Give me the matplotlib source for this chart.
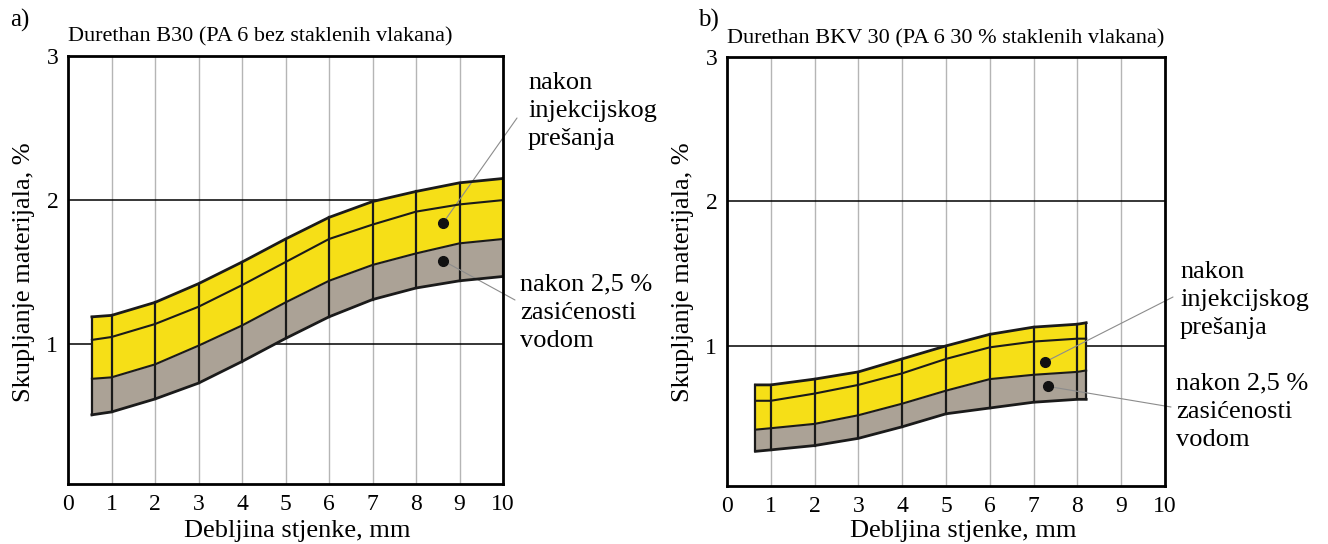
import numpy as np
import matplotlib
matplotlib.use("Agg")
import matplotlib.pyplot as plt

plt.rcParams['font.family'] = ['Liberation Serif', 'DejaVu Serif']

# debljina stjenke, mm
x_a = [0.55, 1, 2, 3, 4, 5, 6, 7, 8, 9, 10]
top_a = [1.19, 1.20, 1.29, 1.42, 1.57, 1.73, 1.88, 1.99, 2.06, 2.12, 2.15]
mid_a = [1.03, 1.05, 1.14, 1.26, 1.41, 1.57, 1.73, 1.83, 1.92, 1.97, 2.00]
bnd_a = [0.76, 0.77, 0.86, 0.99, 1.13, 1.29, 1.44, 1.55, 1.63, 1.70, 1.73]
bot_a = [0.51, 0.53, 0.62, 0.73, 0.88, 1.04, 1.19, 1.31, 1.39, 1.44, 1.47]

x_b = [0.65, 1, 2, 3, 4, 5, 6, 7, 8, 8.2]
top_b = [0.73, 0.73, 0.77, 0.82, 0.91, 1.00, 1.08, 1.13, 1.15, 1.16]
mid_b = [0.62, 0.62, 0.67, 0.73, 0.81, 0.91, 0.99, 1.03, 1.05, 1.05]
bnd_b = [0.42, 0.43, 0.46, 0.52, 0.60, 0.69, 0.77, 0.80, 0.82, 0.83]
bot_b = [0.27, 0.28, 0.31, 0.36, 0.44, 0.53, 0.57, 0.61, 0.63, 0.63]

# tocke oznaka
dots_a = [(8.62, 1.84), (8.62, 1.58)]
dots_b = [(7.27, 0.89), (7.32, 0.72)]

naslov_a = "Durethan B30 (PA 6 bez staklenih vlakana)"
naslov_b = "Durethan BKV 30 (PA 6 30 % staklenih vlakana)"
txt_1 = "nakon\ninjekcijskog\nprešanja"
txt_2 = "nakon 2,5 %\nzasićenosti\nvodom"

YELLOW = "#F6DF17"
GRAY = "#ABA296"
W, H = 1328, 544

fig = plt.figure(figsize=(W / 100, H / 100), dpi=100)


def box(l, r, t, b):
    return [l / W, 1 - b / H, (r - l) / W, (b - t) / H]


def panel(ax, x, top, mid, bnd, bot, dots, fs):
    x = np.array(x)
    ax.set_xlim(0, 10)
    ax.set_ylim(0.03, 3)
    for xi in range(1, 10):
        ax.axvline(xi, color="#b5b5b5", lw=1.0, zorder=1)
    ax.axhline(1, color="black", lw=1.1, zorder=1)
    ax.axhline(2, color="black", lw=1.1, zorder=1)
    ax.fill_between(x, bnd, top, color=YELLOW, lw=0, zorder=2)
    ax.fill_between(x, bot, bnd, color=GRAY, lw=0, zorder=2)
    # tamne okomite linije unutar pojasa
    for i, xi in enumerate(x):
        ax.plot([xi, xi], [bot[i], top[i]], color="#1a1a1a", lw=1.6, zorder=3)
    ax.plot(x, top, color="#1a1a1a", lw=2.0, zorder=4)
    ax.plot(x, mid, color="#1a1a1a", lw=1.5, zorder=4)
    ax.plot(x, bnd, color="#1a1a1a", lw=1.5, zorder=4)
    ax.plot(x, bot, color="#1a1a1a", lw=2.0, zorder=4)
    for d in dots:
        ax.plot(*d, 'o', color="#111111", ms=7, zorder=6)
    ax.set_xticks(range(0, 11))
    ax.set_yticks([1, 2, 3])
    ax.tick_params(length=0, labelsize=fs, pad=7)
    for s in ax.spines.values():
        s.set_linewidth(2.0)
        s.set_zorder(5)


def lead(ax, dot, px, py):
    ax.annotate('', xy=dot, xycoords='data', xytext=(px, H - py),
                textcoords='figure pixels', annotation_clip=False,
                arrowprops=dict(arrowstyle='-', color="#8c8c8c", lw=0.8,
                                shrinkA=0, shrinkB=0))


ax1 = fig.add_axes(box(68, 503, 56, 484))
panel(ax1, x_a, top_a, mid_a, bnd_a, bot_a, dots_a, 17)
ax2 = fig.add_axes(box(727, 1165, 57, 486))
panel(ax2, x_b, top_b, mid_b, bnd_b, bot_b, dots_b, 17)

lead(ax1, dots_a[0], 517, 118)
lead(ax1, dots_a[1], 515, 300)
lead(ax2, dots_b[0], 1173, 297)
lead(ax2, dots_b[1], 1171, 407)


def ftxt(px, py, s, fs, **kw):
    fig.text(px / W, 1 - py / H, s, fontsize=fs, **kw)


ftxt(10, 20, "a)", 18, va='center')
ftxt(698, 20, "b)", 18, va='center')
ftxt(68, 37, naslov_a, 16, va='center')
ftxt(727, 39, naslov_b, 16, va='center')
ftxt(297, 531, "Debljina stjenke, mm", 19, ha='center', va='center')
ftxt(963, 531, "Debljina stjenke, mm", 19, ha='center', va='center')
ftxt(24, 272, "Skupljanje materijala, %", 19, ha='center', va='center', rotation=90)
ftxt(683, 272, "Skupljanje materijala, %", 19, ha='center', va='center', rotation=90)

ftxt(528, 111, txt_1, 19, va='center', linespacing=1.37)
ftxt(520, 313, txt_2, 19, va='center', linespacing=1.37)
ftxt(1180, 300, txt_1, 19, va='center', linespacing=1.37)
ftxt(1176, 412, txt_2, 19, va='center', linespacing=1.37)

fig.savefig("out.png", dpi=100)
